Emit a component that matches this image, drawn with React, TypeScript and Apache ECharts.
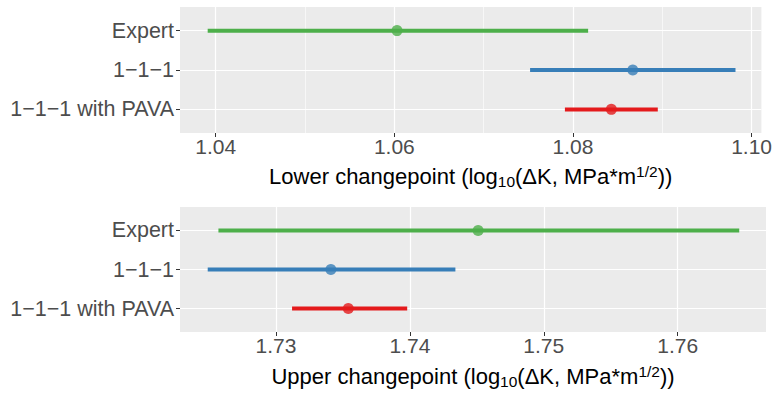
import React, { useEffect, useRef } from "react";
import * as echarts from "echarts";

// Categories (bottom to top: y position 1,2,3)
const methods = ["1−1−1 with PAVA", "1−1−1", "Expert"];
const colors = ["#E41A1C", "#377EB8", "#4DAF4A"];

// Lower changepoint: low, estimate, high per method
const lowerLow = [1.0791, 1.0752, 1.0391];
const lowerEst = [1.0843, 1.0867, 1.0603];
const lowerHigh = [1.0895, 1.0982, 1.0817];

// Upper changepoint
const upperLow = [1.7312, 1.7249, 1.7257];
const upperEst = [1.7354, 1.7341, 1.7451];
const upperHigh = [1.7398, 1.7434, 1.7646];

// Axis ticks
const lowerTicks = [1.04, 1.06, 1.08, 1.1];
const lowerMinor = [1.05, 1.07, 1.09];
const upperTicks = [1.73, 1.74, 1.75, 1.76];
const upperMinor = [1.725, 1.735, 1.745, 1.755, 1.765];
const yPos = [1, 2, 3];

const FONT = "'Liberation Sans', Arial, Helvetica, sans-serif";

export default function App() {
  const ref = useRef<HTMLDivElement>(null);
  useEffect(() => {
    if (!ref.current) return;
    const chart = echarts.init(ref.current, null, { renderer: "svg" });

    const titleRich = {
      a: { fontSize: 22, color: "#000", fontFamily: FONT, lineHeight: 26 },
      sub: { fontSize: 15.5, color: "#000", fontFamily: FONT, lineHeight: 14, verticalAlign: "bottom" },
      sup: { fontSize: 15.5, color: "#000", fontFamily: FONT, lineHeight: 14, verticalAlign: "top" },
    };
    const mkTitle = (w: string) =>
      `{a|${w} changepoint (log}{sub|10}{a|(ΔK, MPa*m}{sup|1/2}{a|))}`;

    const grids = [
      { left: 180, top: 7, width: 586, height: 126 },
      { left: 180, top: 207, width: 586, height: 125 },
    ].map((g) => ({ ...g, show: true, backgroundColor: "#EBEBEB", borderWidth: 0 }));

    const xAxisFor = (idx: number, min: number, max: number, ticks: number[], word: string, gap: number) => ({
      type: "value",
      gridIndex: idx,
      min,
      max,
      axisLine: { show: false },
      splitLine: { show: false },
      axisTick: { show: true, length: 4, customValues: ticks, lineStyle: { color: "#333", width: 1 } },
      axisLabel: {
        customValues: ticks,
        formatter: (v: number) => v.toFixed(2),
        color: "#4D4D4D",
        fontSize: 21,
        fontFamily: FONT,
        margin: 3,
      },
      name: mkTitle(word),
      nameLocation: "middle",
      nameGap: gap,
      nameTextStyle: { rich: titleRich },
    });

    const yAxisFor = (idx: number) => ({
      type: "value",
      gridIndex: idx,
      min: 0.4,
      max: 3.6,
      axisLine: { show: false },
      splitLine: { show: false },
      axisTick: { show: true, length: 4, customValues: yPos, lineStyle: { color: "#333", width: 1 } },
      axisLabel: {
        customValues: yPos,
        formatter: (v: number) => methods[Math.round(v) - 1] ?? "",
        color: "#4D4D4D",
        fontSize: 21.5,
        fontFamily: FONT,
        margin: 6,
      },
    });

    const gridSeries = (idx: number, major: number[], minor: number[]) => ({
      type: "scatter",
      xAxisIndex: idx,
      yAxisIndex: idx,
      data: [],
      silent: true,
      z: 1,
      markLine: {
        silent: true,
        z: 1,
        symbol: ["none", "none"],
        label: { show: false },
        animation: false,
        data: [
          ...minor.map((v) => ({ xAxis: v, lineStyle: { color: "#FFFFFF", width: 0.6, type: "solid" } })),
          ...major.map((v) => ({ xAxis: v, lineStyle: { color: "#FFFFFF", width: 1.2, type: "solid" } })),
          ...yPos.map((v) => ({ yAxis: v, lineStyle: { color: "#FFFFFF", width: 1.2, type: "solid" } })),
        ],
      },
    });

    const rangeSeries = (idx: number, lo: number[], hi: number[]) =>
      methods.map((m, i) => ({
        type: "line",
        name: m,
        xAxisIndex: idx,
        yAxisIndex: idx,
        data: [
          [lo[i], yPos[i]],
          [hi[i], yPos[i]],
        ],
        showSymbol: false,
        symbol: "none",
        lineStyle: { color: colors[i], width: 4, cap: "butt" },
        z: 6,
      }));

    const pointSeries = (idx: number, est: number[]) => ({
      type: "scatter",
      xAxisIndex: idx,
      yAxisIndex: idx,
      symbolSize: 11,
      z: 7,
      data: est.map((v, i) => ({ value: [v, yPos[i]], itemStyle: { color: colors[i] } })),
    });

    chart.setOption({
      animation: false,
      textStyle: { fontFamily: FONT },
      grid: grids,
      xAxis: [
        xAxisFor(0, 1.036, 1.1011, lowerTicks, "Lower", 30),
        xAxisFor(1, 1.72283, 1.7666, upperTicks, "Upper", 31),
      ],
      yAxis: [yAxisFor(0), yAxisFor(1)],
      series: [
        gridSeries(0, lowerTicks, lowerMinor),
        gridSeries(1, upperTicks, upperMinor),
        ...rangeSeries(0, lowerLow, lowerHigh),
        ...rangeSeries(1, upperLow, upperHigh),
        pointSeries(0, lowerEst),
        pointSeries(1, upperEst),
      ],
    });
    return () => chart.dispose();
  }, []);
  return (
    <div
      ref={ref}
      style={{ position: "fixed", left: 0, top: 0, width: 775, height: 395, background: "#fff" }}
    />
  );
}
